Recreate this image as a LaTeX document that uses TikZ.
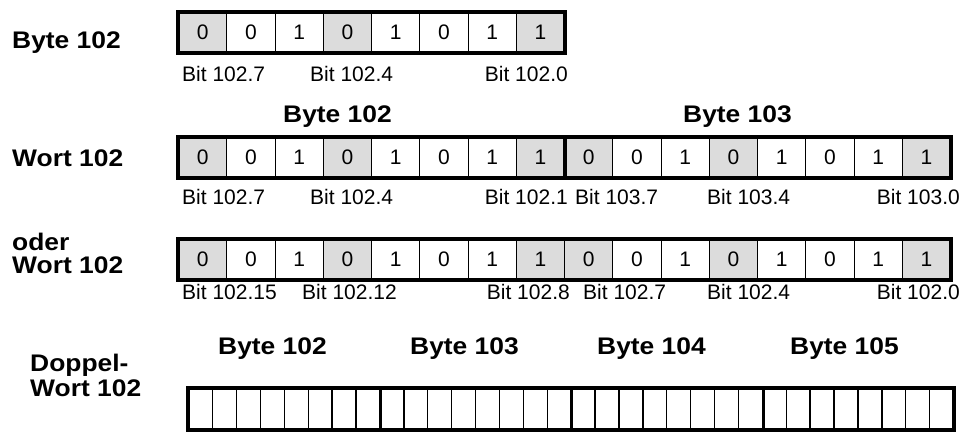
\documentclass[tikz,border=0pt]{standalone}
\usepackage{fontspec}
\setmainfont{Liberation Sans}
\newfontfamily\boldfam[FakeStretch=1.1]{Liberation Sans}
\definecolor{cellgray}{RGB}{220,220,220}
\newcommand{\regtext}{\fontsize{21}{24}\selectfont}
\newcommand{\boldtext}{\boldfam\bfseries\fontsize{24}{28}\selectfont}
\begin{document}
\begin{tikzpicture}[x=1pt,y=-1pt,
  cell/.style={draw, line width=1.2pt, minimum width=48.25pt, minimum height=40pt, inner sep=0pt, anchor=north west, font=\regtext},
  sh1/.style={fill=cellgray}, sh0/.style={fill=white},
  dcell/.style={draw, line width=1.4pt, minimum width=23.9pt, minimum height=41pt, inner sep=0pt, anchor=north west},
  frame/.style={line width=4pt},
  divider/.style={line width=4pt},
  thindiv/.style={line width=3pt},
  bitl/.style={font=\regtext, inner sep=0pt, anchor=base west},
  bitr/.style={font=\regtext, inner sep=0pt, anchor=base east},
  title/.style={font=\boldtext, inner sep=0pt, anchor=base west}]
\useasboundingbox (0,0) rectangle (961,439);

% ---------- Row 1: Byte 102
\node[title] (t1) at (12,48) {Byte 102};
\foreach \v/\s [count=\i] in {0/1,0/0,1/0,0/1,1/0,0/0,1/0,1/1}
  \node[cell, sh\s] (r1c\i) at ({178+(\i-1)*48.25},11.5) {\v};
\draw[frame] (r1c1.north west) rectangle (r1c8.south east);
\node[bitl] (b1a) at (182,81) {Bit 102.7};
\node[bitl] (b1b) at (310,81) {Bit 102.4};
\node[bitr] (b1c) at (568,81) {Bit 102.0};

% ---------- Row 2: Wort 102
\node[title] (h2a) at (283,122) {Byte 102};
\node[title] (h2b) at (683,122) {Byte 103};
\node[title] (t2) at (12,166) {Wort 102};
\foreach \v/\s [count=\i] in {0/1,0/0,1/0,0/1,1/0,0/0,1/0,1/1,0/1,0/0,1/0,0/1,1/0,0/0,1/0,1/1}
  \node[cell, sh\s] (r2c\i) at ({178+(\i-1)*48.25},137) {\v};
\draw[frame] (r2c1.north west) rectangle (r2c16.south east);
\draw[divider] (r2c8.north east) -- (r2c8.south east);
\node[bitl] (b2a) at (182,204) {Bit 102.7};
\node[bitl] (b2b) at (310,204) {Bit 102.4};
\node[bitr] (b2c) at (568,204) {Bit 102.1};
\node[bitl] (b2d) at (575,204) {Bit 103.7};
\node[bitl] (b2e) at (707,204) {Bit 103.4};
\node[bitr] (b2f) at (960,204) {Bit 103.0};

% ---------- Row 3: oder Wort 102
\node[title] (t3a) at (12,250) {oder};
\node[title] (t3b) at (12,273) {Wort 102};
\foreach \v/\s [count=\i] in {0/1,0/0,1/0,0/1,1/0,0/0,1/0,1/1,0/1,0/0,1/0,0/1,1/0,0/0,1/0,1/1}
  \node[cell, sh\s] (r3c\i) at ({178+(\i-1)*48.25},238.5) {\v};
\draw[frame] (r3c1.north west) rectangle (r3c16.south east);
\node[bitl] (b3a) at (182,299) {Bit 102.15};
\node[bitl] (b3b) at (302,299) {Bit 102.12};
\node[bitr] (b3c) at (570,299) {Bit 102.8};
\node[bitl] (b3d) at (583,299) {Bit 102.7};
\node[bitl] (b3e) at (707,299) {Bit 102.4};
\node[bitr] (b3f) at (960,299) {Bit 102.0};

% ---------- Row 4: Doppelwort 102
\node[title] (h4a) at (218,354) {Byte 102};
\node[title] (h4b) at (410,354) {Byte 103};
\node[title] (h4c) at (597,354) {Byte 104};
\node[title] (h4d) at (790,354) {Byte 105};
\node[title] (t4a) at (30,371) {Doppel-};
\node[title] (t4b) at (30,396) {Wort 102};
\foreach \i in {1,...,32}
  \node[dcell] (r4c\i) at ({188+(\i-1)*23.9},388) {};
\draw[frame] (r4c1.north west) rectangle (r4c32.south east);
\foreach \k in {8,16,24}
  \draw[thindiv] (r4c\k.north east) -- (r4c\k.south east);
\end{tikzpicture}
\end{document}
